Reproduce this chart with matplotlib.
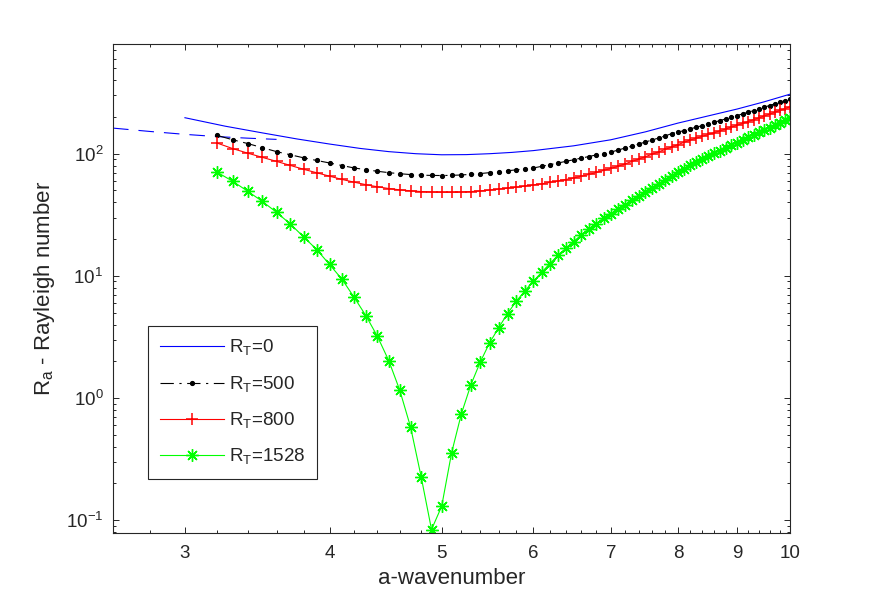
import matplotlib
matplotlib.use("Agg")
import matplotlib.pyplot as plt
from matplotlib.ticker import FixedLocator, LogLocator, NullFormatter, FixedFormatter

plt.rcParams['font.family'] = ['Liberation Sans', 'DejaVu Sans']
plt.rcParams['mathtext.fontset'] = 'custom'
plt.rcParams['mathtext.rm'] = 'Liberation Sans'

# ---- data ----
a_blue = [3.0, 3.25, 3.5, 3.75, 4.0, 4.25, 4.5, 4.75, 5.0, 5.25, 5.5, 5.75,
          6.0, 6.5, 7.0, 7.5, 8.0, 8.5, 9.0, 9.5, 10.0]
r_blue = [197, 168, 148, 132, 120, 110.5, 104, 100, 98, 98.3, 100, 102.5,
          106, 116, 130, 151, 178, 204, 232, 266, 307]

a_dash = [2.6, 2.8, 3.0, 3.2, 3.4, 3.6]
r_dash = [162, 152, 144, 138, 134, 131]

a_grid = [round(3.2 + 0.1 * i, 1) for i in range(69)]

r_500 = [141, 130, 121, 112, 104, 98, 92.5, 88, 84, 80,
         76.5, 74, 71.8, 70, 68.6, 67.5, 66.8, 66.4, 66.3, 66.5,
         67, 67.8, 68.8, 70, 71.2, 72.5, 73.8, 75.1, 76.4, 78.8,
         81.3, 83.9, 86.5, 89.2, 92, 94.8, 97.7, 100.3, 103, 107,
         111.2, 115.5, 120, 124.7, 129.5, 134.5, 139.7, 146, 150, 154.8,
         159.7, 164.8, 170, 175.5, 181, 186.8, 192.8, 199, 205.3, 211.9,
         218.6, 225.6, 232.8, 240.3, 248, 255.9, 264, 272.5, 281][:69]

r_800 = [122, 110, 101, 93.3, 86.5, 80.2, 74.5, 69.8, 65.5, 61.6,
         58.5, 55.8, 53.6, 51.9, 50.6, 49.7, 49.0, 48.6, 48.4, 48.4,
         48.6, 49.0, 49.6, 50.4, 51.3, 52.2, 53.2, 54.3, 55.5, 56.7,
         58.2, 59.8, 61.5, 63.3, 65.3, 67.6, 70.2, 73, 75.8, 78.8,
         82.5, 86.4, 90.4, 94.6, 99, 103.6, 108.4, 113.4, 118.6, 124,
         129.5, 134, 138.8, 143.7, 148.8, 154, 159.5, 165.2, 171, 177,
         183.3, 189.8, 196.5, 203.5, 210.7, 218.2, 226, 234, 242.3, 251][:69]

r_1528 = [70.4, 59.4, 49.2, 40.7, 33.1, 26.6, 20.8, 16.4, 12.4, 9.4,
          6.7, 4.73, 3.2, 2.03, 1.16, 0.58, 0.227, 0.084, 0.13, 0.357,
          0.744, 1.29, 1.98, 2.83, 3.76, 4.92, 6.2, 7.54, 9.03, 10.7,
          12.6, 14.7, 16.8, 19.1, 21.6, 24.2, 26.8, 29.6, 32.3, 35.3,
          38.3, 41.5, 44.8, 48.4, 52.2, 56.3, 60.8, 65.7, 71, 75.5,
          80.2, 85, 90, 95.2, 100.5, 106, 111.6, 117.4, 123.3, 129.5,
          136, 142.7, 149.6, 156.6, 163.8, 171.2, 178.8, 188, 197][:69]

labels = ['R$_\\mathregular{T}$=0', 'R$_\\mathregular{T}$=500',
          'R$_\\mathregular{T}$=800', 'R$_\\mathregular{T}$=1528']
x_major = [3, 4, 5, 6, 7, 8, 9, 10]
x_minor = [round(2.6 + 0.2 * i, 1) for i in range(38)]

# ---- figure ----
fig = plt.figure(figsize=(8.72, 5.99), dpi=100)
ax = fig.add_axes([0.1296, 0.1102, 0.7764, 0.8163])
ax.set_xscale('log')
ax.set_yscale('log')

lw = 0.8
l1, = ax.plot(a_blue, r_blue, color='#0000ff', lw=lw, label=labels[0])
ax.plot(a_dash, r_dash, color='#0000ff', lw=lw, ls=(0, (14, 9)))
l2, = ax.plot(a_grid, r_500[:len(a_grid)], color='black', lw=lw, ls=(0, (12, 5, 2, 5)),
              marker='.', ms=5.5, label=labels[1])
l3, = ax.plot(a_grid, r_800[:len(a_grid)], color='#ff0000', lw=lw, marker='+', ms=9,
              mew=1.1, label=labels[2])
l4, = ax.plot(a_grid, r_1528[:len(a_grid)], color='#00ff00', lw=lw, marker=(8, 2, 0), ms=9,
              mew=1.0, label=labels[3])

ax.set_xlim(2.6, 10)
ax.set_ylim(0.0787, 790)

edge = '#262626'
for s in ax.spines.values():
    s.set_color(edge)
    s.set_linewidth(0.8)

ax.xaxis.set_major_locator(FixedLocator(x_major))
ax.xaxis.set_major_formatter(FixedFormatter([str(v) for v in x_major]))
ax.xaxis.set_minor_locator(FixedLocator([v for v in x_minor if v not in x_major]))
ax.xaxis.set_minor_formatter(NullFormatter())
ax.yaxis.set_major_locator(LogLocator(base=10, numticks=10))
ax.yaxis.set_minor_locator(LogLocator(base=10, subs=range(2, 10), numticks=20))
ax.yaxis.set_minor_formatter(NullFormatter())

ax.tick_params(which='both', direction='in', top=True, right=True, colors=edge,
               labelsize=13.5, width=0.7)
ax.tick_params(which='major', length=4.5)
ax.tick_params(which='minor', length=2.5)
ax.tick_params(axis='x', which='major', pad=9)
ax.tick_params(axis='y', which='major', pad=7)
for t in ax.get_xticklabels() + ax.get_yticklabels():
    t.set_color(edge)

ax.set_xlabel('a-wavenumber', fontsize=16, color=edge, labelpad=4)
ax.set_ylabel('R$_\\mathregular{a}$ - Rayleigh number', fontsize=16, color=edge, labelpad=6)

leg = ax.legend(handles=[l1, l2, l3, l4], loc='lower left',
                bbox_to_anchor=(0.0517, 0.110), fontsize=13.5, numpoints=1,
                handlelength=3.4, handletextpad=0.27, labelspacing=0.85,
                borderpad=0.65, borderaxespad=0, fancybox=False, framealpha=1)
leg.get_frame().set_edgecolor(edge)
leg.get_frame().set_linewidth(0.8)
for t in leg.get_texts():
    t.set_color(edge)

fig.savefig('out.png', dpi=100)
